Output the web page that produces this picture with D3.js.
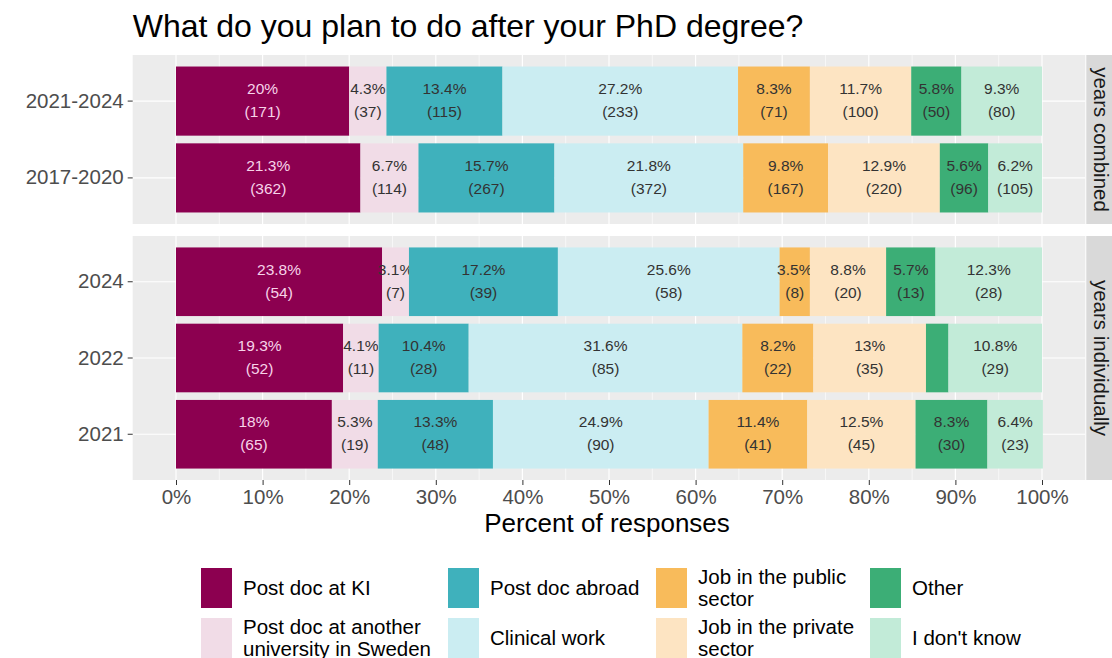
<!DOCTYPE html>
<html>
<head>
<meta charset="utf-8">
<script src="https://cdn.jsdelivr.net/npm/d3@7"></script>
<style>
  body { margin: 0; background: #fff; }
  svg { font-family: "Liberation Sans", Arial, Helvetica, sans-serif; }
</style>
</head>
<body>
<svg id="chart" width="1112" height="658"></svg>
<script>
// answer options, left to right in every bar
const categories = ["Post doc at KI", "Post doc at another university in Sweden", "Post doc abroad",
  "Clinical work", "Job in the public sector", "Job in the private sector", "Other", "I don't know"];
const colors = ["#8c0050", "#f1dce7", "#3fb1bc", "#cbedf2", "#f8bb5b", "#fde4c2", "#3cae76", "#c2ebd8"];

const combinedYears = ["2021-2024", "2017-2020"];
const individualYears = ["2024", "2022", "2021"];

// percent of responses
const pct_2021_2024 = [20, 4.3, 13.4, 27.2, 8.3, 11.7, 5.8, 9.3];
const pct_2017_2020 = [21.3, 6.7, 15.7, 21.8, 9.8, 12.9, 5.6, 6.2];
const pct_2024 = [23.8, 3.1, 17.2, 25.6, 3.5, 8.8, 5.7, 12.3];
const pct_2022 = [19.3, 4.1, 10.4, 31.6, 8.2, 13, 2.6, 10.8];
const pct_2021 = [18, 5.3, 13.3, 24.9, 11.4, 12.5, 8.3, 6.4];

// number of responses
const n_2021_2024 = [171, 37, 115, 233, 71, 100, 50, 80];
const n_2017_2020 = [362, 114, 267, 372, 167, 220, 96, 105];
const n_2024 = [54, 7, 39, 58, 8, 20, 13, 28];
const n_2022 = [52, 11, 28, 85, 22, 35, 7, 29];
const n_2021 = [65, 19, 48, 90, 41, 45, 30, 23];

const xTicks = [0, 10, 20, 30, 40, 50, 60, 70, 80, 90, 100];

const pctByYear = { "2021-2024": pct_2021_2024, "2017-2020": pct_2017_2020, "2024": pct_2024, "2022": pct_2022, "2021": pct_2021 };
const nByYear = { "2021-2024": n_2021_2024, "2017-2020": n_2017_2020, "2024": n_2024, "2022": n_2022, "2021": n_2021 };

const svg = d3.select("#chart");
const x = d3.scaleLinear().domain([0, 100]).range([176, 1042]);
const panelX0 = x(-5), panelX1 = x(105);

svg.append("text")
  .attr("x", panelX0).attr("y", 37)
  .attr("font-size", 32).attr("fill", "#000")
  .text("What do you plan to do after your PhD degree?");

const panels = [
  { label: "years combined", years: combinedYears, y0: 55, y1: 224 },
  { label: "years individually", years: individualYears, y0: 236, y1: 480 }
];

panels.forEach(p => {
  const g = svg.append("g");
  const y = d3.scaleBand().domain(p.years).range([p.y0, p.y1]).paddingInner(0.1).paddingOuter(0.15);

  g.append("rect").attr("x", panelX0).attr("y", p.y0)
    .attr("width", panelX1 - panelX0).attr("height", p.y1 - p.y0).attr("fill", "#ececec");

  // grid
  g.selectAll(".minor").data(d3.range(5, 100, 10)).join("line")
    .attr("x1", d => x(d)).attr("x2", d => x(d)).attr("y1", p.y0).attr("y2", p.y1)
    .attr("stroke", "#fff").attr("stroke-width", 0.6);
  g.selectAll(".major").data(xTicks).join("line")
    .attr("x1", d => x(d)).attr("x2", d => x(d)).attr("y1", p.y0).attr("y2", p.y1)
    .attr("stroke", "#fff").attr("stroke-width", 1.2);
  g.selectAll(".hgrid").data(p.years).join("line")
    .attr("x1", panelX0).attr("x2", panelX1)
    .attr("y1", d => y(d) + y.bandwidth() / 2).attr("y2", d => y(d) + y.bandwidth() / 2)
    .attr("stroke", "#fff").attr("stroke-width", 1.2);

  const table = p.years.map(yr => {
    const o = { year: yr };
    categories.forEach((c, i) => o[c] = pctByYear[yr][i]);
    return o;
  });
  const series = d3.stack().keys(categories)(table);

  series.forEach((s, ci) => {
    const cg = g.append("g");
    cg.selectAll("rect").data(s).join("rect")
      .attr("x", d => x(d[0])).attr("width", d => x(d[1]) - x(d[0]))
      .attr("y", d => y(d.data.year)).attr("height", y.bandwidth())
      .attr("fill", colors[ci]);

    const lab = cg.selectAll("text").data(s.filter(d => d[1] - d[0] >= 3)).join("text")
      .attr("text-anchor", "middle").attr("font-size", 15.5)
      .attr("fill", ci === 0 ? "#f7d3e9" : "#333");
    lab.append("tspan")
      .attr("x", d => x((d[0] + d[1]) / 2)).attr("y", d => y(d.data.year) + y.bandwidth() / 2 - 7)
      .text(d => d.data[categories[ci]] + "%");
    lab.append("tspan")
      .attr("x", d => x((d[0] + d[1]) / 2)).attr("y", d => y(d.data.year) + y.bandwidth() / 2 + 16)
      .text(d => "(" + nByYear[d.data.year][ci] + ")");
  });

  // y axis
  const ya = g.append("g").attr("transform", `translate(${panelX0},0)`)
    .call(d3.axisLeft(y).tickSize(5).tickPadding(4));
  ya.select(".domain").remove();
  ya.selectAll("line").attr("stroke", "#333");
  ya.selectAll("text").attr("font-size", 20.5).attr("fill", "#4d4d4d").attr("font-family", null);

  // strip
  g.append("rect").attr("x", panelX1 + 1).attr("y", p.y0)
    .attr("width", 40).attr("height", p.y1 - p.y0).attr("fill", "#d9d9d9");
  g.append("text")
    .attr("transform", `translate(${panelX1 + 16},${(p.y0 + p.y1) / 2}) rotate(90)`)
    .attr("text-anchor", "middle").attr("dy", "0.35em")
    .attr("font-size", 20.5).attr("fill", "#1a1a1a")
    .text(p.label);
});

// x axis
const xa = svg.append("g").attr("transform", "translate(0,480)")
  .call(d3.axisBottom(x).tickValues(xTicks).tickFormat(d => d + "%").tickSize(5).tickPadding(4));
xa.select(".domain").remove();
xa.selectAll("line").attr("stroke", "#333");
xa.selectAll("text").attr("font-size", 20.5).attr("fill", "#4d4d4d").attr("font-family", null);

svg.append("text").attr("x", (panelX0 + panelX1) / 2 - 2).attr("y", 532)
  .attr("text-anchor", "middle").attr("font-size", 26).attr("fill", "#000")
  .text("Percent of responses");

// legend, filled by column
const legendColX = [201, 448, 656, 870];
const legendRowY = [588, 638];
const legend = svg.append("g");
categories.forEach((c, i) => {
  const cx = legendColX[Math.floor(i / 2)], cy = legendRowY[i % 2];
  legend.append("rect").attr("x", cx).attr("y", cy - 20).attr("width", 31).attr("height", 40)
    .attr("fill", colors[i]);
  const t = legend.append("text").attr("font-size", 20.5).attr("fill", "#000");
  // wrap label to ~192px
  const words = c.split(" ");
  const lines = [];
  let line = [];
  words.forEach(w => {
    t.text([...line, w].join(" "));
    if (line.length && t.node().getComputedTextLength() > 192) { lines.push(line.join(" ")); line = [w]; }
    else line.push(w);
  });
  lines.push(line.join(" "));
  t.text(null);
  lines.forEach((l, k) => {
    t.append("tspan").attr("x", cx + 42)
      .attr("y", cy + 7 + (k - (lines.length - 1) / 2) * 22)
      .text(l);
  });
});
</script>
</body>
</html>
